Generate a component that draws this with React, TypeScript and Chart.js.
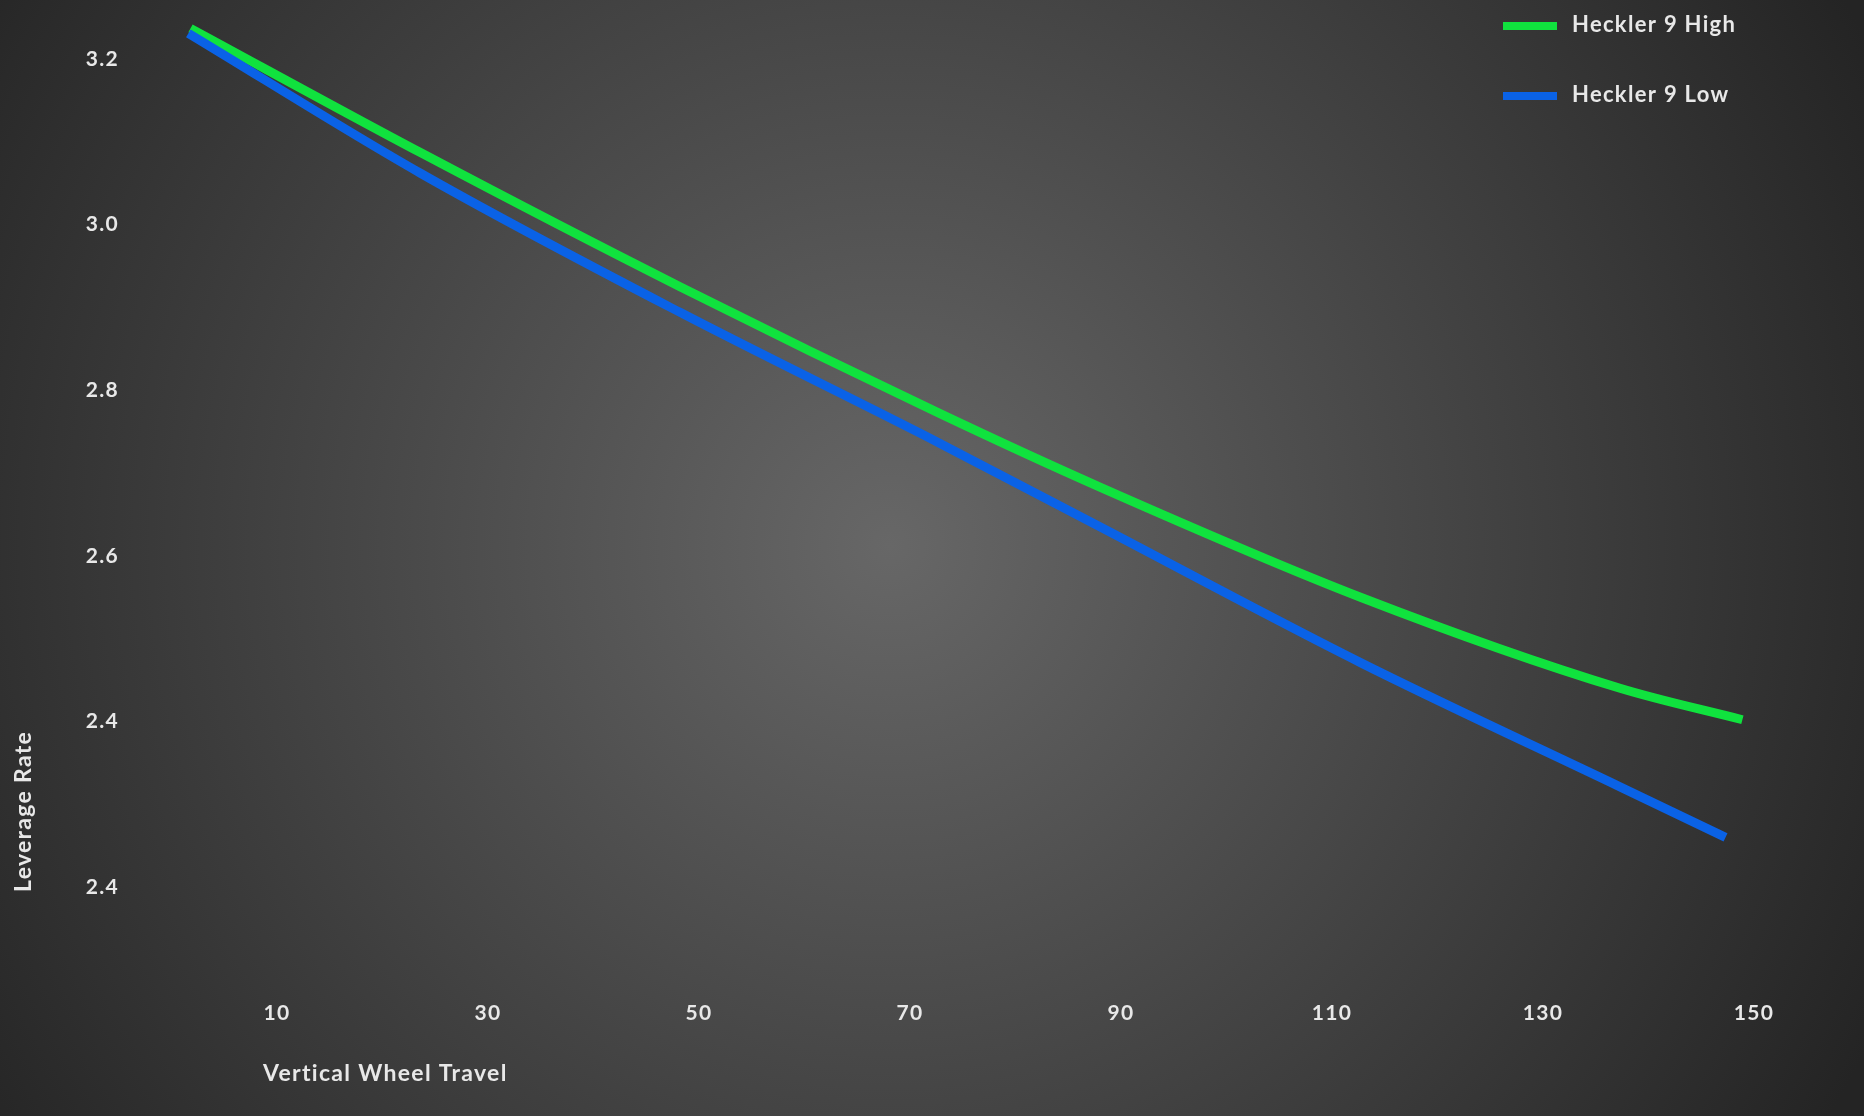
import React, { useEffect, useRef } from 'react';
import { Chart, registerables } from 'chart.js';

Chart.register(...registerables);

// ---- data ----
const seriesNames = ['Heckler 9 High', 'Heckler 9 Low'];
const highTravel = [1.8, 23.6, 48.2, 72.8, 88.0, 112.7, 137.3, 148.9];
const highRate = [3.237, 3.087, 2.925, 2.772, 2.683, 2.55, 2.44, 2.402];
const lowTravel = [1.6, 23.6, 48.2, 72.8, 88.0, 112.7, 137.3, 147.3];
const lowRate = [3.231, 3.062, 2.894, 2.736, 2.635, 2.471, 2.321, 2.26];
const xTickValues = [10, 30, 50, 70, 90, 110, 130, 150];
const yTickValues = [2.2, 2.4, 2.6, 2.8, 3.0, 3.2];
const yTickLabels = ['2.4', '2.4', '2.6', '2.8', '3.0', '3.2'];
const xTitle = 'Vertical Wheel Travel';
const yTitle = 'Leverage Rate';

const W = 1864;
const H = 1116;
const TEXT = '#e8e8e8';
const GREEN = '#10e23e';
const BLUE = '#0a62e6';
const FAMILY = 'Lato, "Open Sans", sans-serif';
const SPACING = '1.3px';

const backgroundPlugin = {
  id: 'bgGradient',
  beforeDraw(chart: any) {
    const { ctx, width, height } = chart;
    ctx.save();
    const g = ctx.createRadialGradient(890, 545, 0, 890, 545, 1100);
    g.addColorStop(0, '#676767');
    g.addColorStop(1, '#242424');
    ctx.fillStyle = g;
    ctx.fillRect(0, 0, width, height);
    ctx.restore();
    (ctx as any).letterSpacing = SPACING;
  },
};

const overlayPlugin = {
  id: 'overlayText',
  afterDraw(chart: any) {
    const { ctx } = chart;
    ctx.save();
    (ctx as any).letterSpacing = SPACING;
    // legend
    ctx.font = `bold 22px ${FAMILY}`;
    ctx.textAlign = 'left';
    ctx.textBaseline = 'alphabetic';
    chart.data.datasets.forEach((ds: any, i: number) => {
      const yc = 26 + i * 70;
      ctx.fillStyle = ds.borderColor;
      ctx.fillRect(1503, yc - 4, 54, 8);
      ctx.fillStyle = TEXT;
      ctx.fillText(ds.label, 1572, yc + 5.5);
    });
    // x axis title
    ctx.font = `bold 23px ${FAMILY}`;
    ctx.fillStyle = TEXT;
    ctx.fillText(xTitle, 263, 1081);
    ctx.restore();
  },
};

export default function App() {
  const ref = useRef<HTMLCanvasElement | null>(null);

  useEffect(() => {
    if (!ref.current) return;
    const chart = new Chart(ref.current, {
      type: 'line',
      data: {
        datasets: [
          {
            label: seriesNames[0],
            data: highTravel.map((x, i) => ({ x, y: highRate[i] })),
            borderColor: GREEN,
            backgroundColor: GREEN,
            borderWidth: 9,
            pointRadius: 0,
            cubicInterpolationMode: 'monotone',
            fill: false,
            order: 2,
          },
          {
            label: seriesNames[1],
            data: lowTravel.map((x, i) => ({ x, y: lowRate[i] })),
            borderColor: BLUE,
            backgroundColor: BLUE,
            borderWidth: 9,
            pointRadius: 0,
            cubicInterpolationMode: 'monotone',
            fill: false,
            order: 1,
          },
        ],
      },
      options: {
        animation: false,
        responsive: false,
        maintainAspectRatio: false,
        devicePixelRatio: 1,
        layout: { padding: { top: 9.3, right: 57.25, bottom: 0, left: 0 } },
        plugins: {
          legend: { display: false },
          tooltip: { enabled: false },
        },
        scales: {
          x: {
            type: 'linear',
            min: 0,
            max: 155,
            grid: { display: false, drawTicks: false },
            border: { display: false },
            afterBuildTicks: (s: any) => {
              s.ticks = xTickValues.map((v) => ({ value: v }));
            },
            afterFit: (s: any) => {
              s.height = 224;
              s.paddingLeft = 0;
              s.paddingRight = 0;
            },
            ticks: {
              color: TEXT,
              font: { family: FAMILY, size: 21, weight: 'bold' },
              padding: 109,
              maxRotation: 0,
              autoSkip: false,
              callback: (v: any) => String(v),
            },
          },
          y: {
            type: 'linear',
            min: 2.194,
            max: 3.26,
            grid: { display: false, drawTicks: false },
            border: { display: false },
            afterBuildTicks: (s: any) => {
              s.ticks = yTickValues.map((v) => ({ value: v }));
            },
            afterFit: (s: any) => {
              s.width = 171.5;
              s.paddingTop = 0;
              s.paddingBottom = 0;
            },
            ticks: {
              color: TEXT,
              font: { family: FAMILY, size: 21, weight: 'bold' },
              padding: 52.5,
              autoSkip: false,
              callback: (v: any) => {
                const i = yTickValues.findIndex((t) => Math.abs(t - Number(v)) < 1e-6);
                return i >= 0 ? yTickLabels[i] : '';
              },
            },
            title: {
              display: true,
              text: yTitle,
              align: 'start',
              color: TEXT,
              font: { family: FAMILY, size: 23, weight: 'bold' },
              padding: { top: 10, bottom: 0 },
            },
          },
        },
      } as any,
      plugins: [backgroundPlugin, overlayPlugin],
    });
    return () => chart.destroy();
  }, []);

  return (
    <div style={{ position: 'fixed', left: 0, top: 0, width: W, height: H, overflow: 'hidden' }}>
      <canvas ref={ref} width={W} height={H} style={{ display: 'block', width: W, height: H }} />
    </div>
  );
}
